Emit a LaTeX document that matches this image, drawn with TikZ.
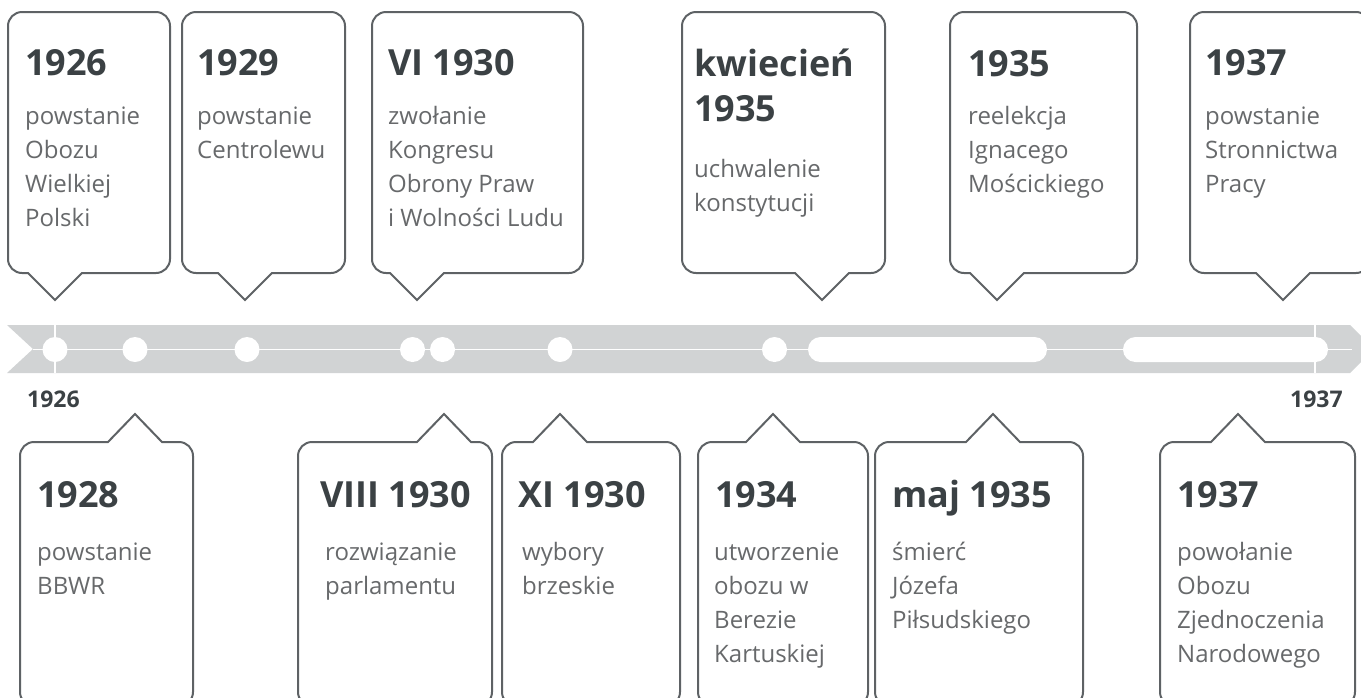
\documentclass[tikz,border=0pt]{standalone}
\usepackage{fontspec}
\setmainfont{Open Sans}
\usetikzlibrary{positioning}
\definecolor{c1}{HTML}{3B4144}
\definecolor{c2}{HTML}{5E6265}
\definecolor{c3}{HTML}{D1D3D4}
\definecolor{bodycolor}{HTML}{67696B}

\begin{document}
\begin{tikzpicture}[
    x=1pt, y=-1pt,
    head/.style={font=\fontsize{36}{45}\selectfont\bfseries, text=c1,
                 anchor=base west, inner sep=0pt, align=left},
    body/.style={font=\fontsize{24}{34}\selectfont, text=bodycolor,
                 anchor=base west, inner sep=0pt, align=left},
    edge/.style={font=\fontsize{23}{26}\selectfont\bfseries, text=c1,
                 anchor=base west, inner sep=0pt},
    callout/.style={draw=c2, line width=2pt, fill=white},
    dot/.style={circle, fill=white, minimum size=25pt, inner sep=0pt},
]
\useasboundingbox (0,0) rectangle (1361,697);
\clip (0,0) rectangle (1361,697);
\def\topbox#1#2#3{\draw[callout] (#3+27,273) -- (#3,300) -- (#3-27,273)
    [rounded corners=14] -- (#1,273) -- (#1,12) -- (#2,12) -- (#2,273)
    [sharp corners] -- cycle;}
\def\lowbox#1#2#3{\draw[callout] (#3-27,442) -- (#3,414) -- (#3+27,442)
    [rounded corners=14] -- (#2,442) -- (#2,706) -- (#1,706) -- (#1,442)
    [sharp corners] -- cycle;}

% the bar
\fill[c3] (7,325) -- (1350,325) -- (1374,349) -- (1350,373) -- (7,373)
    -- (33,349) -- cycle;
\draw[white, line width=1.7pt] (33,349.5) -- (1352,349.5);
\draw[white, line width=2pt] (55,325) -- (55,373);
\draw[white, line width=2pt] (1315,325) -- (1315,373);
\foreach \m [count=\i] in {55, 135, 247, 412.5, 442.5, 560, 774.5}{
    \node[dot] (d\i) at (\m, 349.5) {};
}
\fill[white, rounded corners=12.5pt] (808,337) rectangle (1047,362);
\fill[white, rounded corners=12.5pt] (1123,337) rectangle (1328,362);
\node[edge] (start) at (27,407) {1926};
\node[edge] (end) at (1290,407) {1937};

% upper callouts (text anchored on its last line)
\topbox{8}{170}{55}
\topbox{182}{345}{245}
\topbox{372}{583}{417}
\topbox{682}{885}{822}
\topbox{950}{1137}{997}
\topbox{1190}{1370}{1283}

\node[head] (h1926) at (25,75) {1926};
\node[body] (t1926) at (25,226) {powstanie\\Obozu\\Wielkiej\\Polski};
\node[head] (h1929) at (197,75) {1929};
\node[body] (t1929) at (197,158) {powstanie\\Centrolewu};
\node[head] (h1930vi) at (388,75) {VI 1930};
\node[body] (t1930vi) at (388,226) {zwołanie\\Kongresu\\Obrony Praw\\i Wolności Ludu};
\node[head] (h1935iv) at (694,121) {kwiecień\\1935};
\node[body] (t1935iv) at (694,211) {uchwalenie\\konstytucji};
\node[head] (h1935) at (968,76) {1935};
\node[body] (t1935) at (968,192) {reelekcja\\Ignacego\\Mościckiego};
\node[head] (h1937a) at (1205,75) {1937};
\node[body] (t1937a) at (1205,192) {powstanie\\Stronnictwa\\Pracy};

% lower callouts
\lowbox{20}{193}{135}
\lowbox{298}{492}{444}
\lowbox{502}{680}{560}
\lowbox{698}{868}{773}
\lowbox{875}{1083}{993}
\lowbox{1160}{1355}{1238}

\node[head] (h1928) at (37,507) {1928};
\node[body] (t1928) at (37,594) {powstanie\\BBWR};
\node[head] (h1930viii) at (320,507) {VIII 1930};
\node[body] (t1930viii) at (325,594) {rozwiązanie\\parlamentu};
\node[head] (h1930xi) at (518,507) {XI 1930};
\node[body] (t1930xi) at (522,594) {wybory\\brzeskie};
\node[head] (h1934) at (715,507) {1934};
\node[body] (t1934) at (714,662) {utworzenie\\obozu w\\Berezie\\Kartuskiej};
\node[head] (h1935v) at (892,507) {maj 1935};
\node[body] (t1935v) at (892,628) {śmierć\\Józefa\\Piłsudskiego};
\node[head] (h1937b) at (1177,507) {1937};
\node[body] (t1937b) at (1177,662) {powołanie\\Obozu\\Zjednoczenia\\Narodowego};
\end{tikzpicture}
\end{document}
